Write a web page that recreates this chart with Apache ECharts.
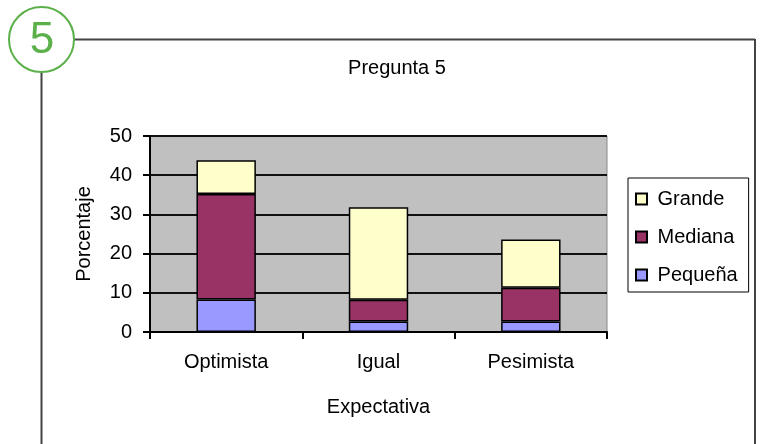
<!DOCTYPE html>
<html>
<head>
<meta charset="utf-8">
<script src="https://cdn.jsdelivr.net/npm/echarts@6/dist/echarts.min.js"></script>
<style>
  body { margin: 0; background: #fff; }
  #chart { width: 761px; height: 444px; }
</style>
</head>
<body>
<div id="chart"></div>
<script>
// data
const categories = ['Optimista', 'Igual', 'Pesimista'];
const pequena = [8.3, 2.7, 2.7];
const mediana = [26.9, 5.5, 8.6];
const grande = [8.6, 23.6, 12.3];
const yTicks = [0, 10, 20, 30, 40, 50];

const font = 'Liberation Sans, Arial, sans-serif';
const green = '#5bb04a';

const chart = echarts.init(document.getElementById('chart'));

function barSeries(name, data, color) {
  return {
    name: name,
    type: 'bar',
    stack: 'total',
    barWidth: '39%',
    data: data,
    itemStyle: { color: color, borderColor: '#000', borderWidth: 1.5 }
  };
}

chart.setOption({
  backgroundColor: '#fff',
  animation: false,
  title: {
    text: 'Pregunta 5',
    left: 392,
    top: 53,
    textAlign: 'center',
    textStyle: { fontFamily: font, fontSize: 20, fontWeight: 'normal', color: '#000' }
  },
  legend: {
    orient: 'vertical',
    left: 628,
    top: 178,
    padding: [11, 11, 7, 7],
    itemGap: 18,
    itemWidth: 11,
    itemHeight: 11,
    icon: 'rect',
    borderColor: '#000',
    borderWidth: 1,
    formatter: ' {name}',
    textStyle: { fontFamily: font, fontSize: 20, color: '#000' },
    data: ['Grande', 'Mediana', 'Pequeña']
  },
  grid: {
    left: 150, right: 154, top: 136, bottom: 112,
    show: true,
    backgroundColor: '#c0c0c0',
    borderColor: '#888',
    borderWidth: 1
  },
  xAxis: {
    type: 'category',
    data: categories,
    name: 'Expectativa',
    nameLocation: 'middle',
    nameGap: 65,
    nameTextStyle: { fontFamily: font, fontSize: 20, color: '#000' },
    axisLine: { lineStyle: { color: '#000', width: 2 } },
    axisTick: { show: true, length: 7, lineStyle: { color: '#000', width: 2 } },
    axisLabel: { margin: 20, fontFamily: font, fontSize: 20, color: '#000' }
  },
  yAxis: {
    type: 'value',
    min: yTicks[0],
    max: yTicks[yTicks.length - 1],
    interval: yTicks[1] - yTicks[0],
    name: 'Porcentaje',
    nameLocation: 'middle',
    nameGap: 56,
    nameTextStyle: { fontFamily: font, fontSize: 20, color: '#000' },
    axisLine: { show: true, lineStyle: { color: '#000', width: 2 } },
    axisTick: { show: true, length: 7, lineStyle: { color: '#000', width: 2 } },
    axisLabel: { margin: 18, fontFamily: font, fontSize: 20, color: '#000' },
    splitLine: { show: true, lineStyle: { color: '#111', width: 2 } }
  },
  series: [
    barSeries('Pequeña', pequena, '#9999ff'),
    barSeries('Mediana', mediana, '#993366'),
    barSeries('Grande', grande, '#ffffcc')
  ],
  graphic: [
    { type: 'line', shape: { x1: 74, y1: 39.5, x2: 755, y2: 39.5 }, style: { stroke: '#444', lineWidth: 2 } },
    { type: 'line', shape: { x1: 755, y1: 39, x2: 755, y2: 444 }, style: { stroke: '#444', lineWidth: 2 } },
    { type: 'line', shape: { x1: 41.5, y1: 72, x2: 41.5, y2: 444 }, style: { stroke: '#444', lineWidth: 2 } },
    { type: 'circle', shape: { cx: 41.5, cy: 39.5, r: 32.5 }, style: { fill: '#fff', stroke: green, lineWidth: 2 } },
    {
      type: 'text', x: 42, y: 41,
      style: { text: '5', fill: green, fontFamily: font, fontSize: 44, align: 'center', verticalAlign: 'middle' }
    }
  ]
});
</script>
</body>
</html>
